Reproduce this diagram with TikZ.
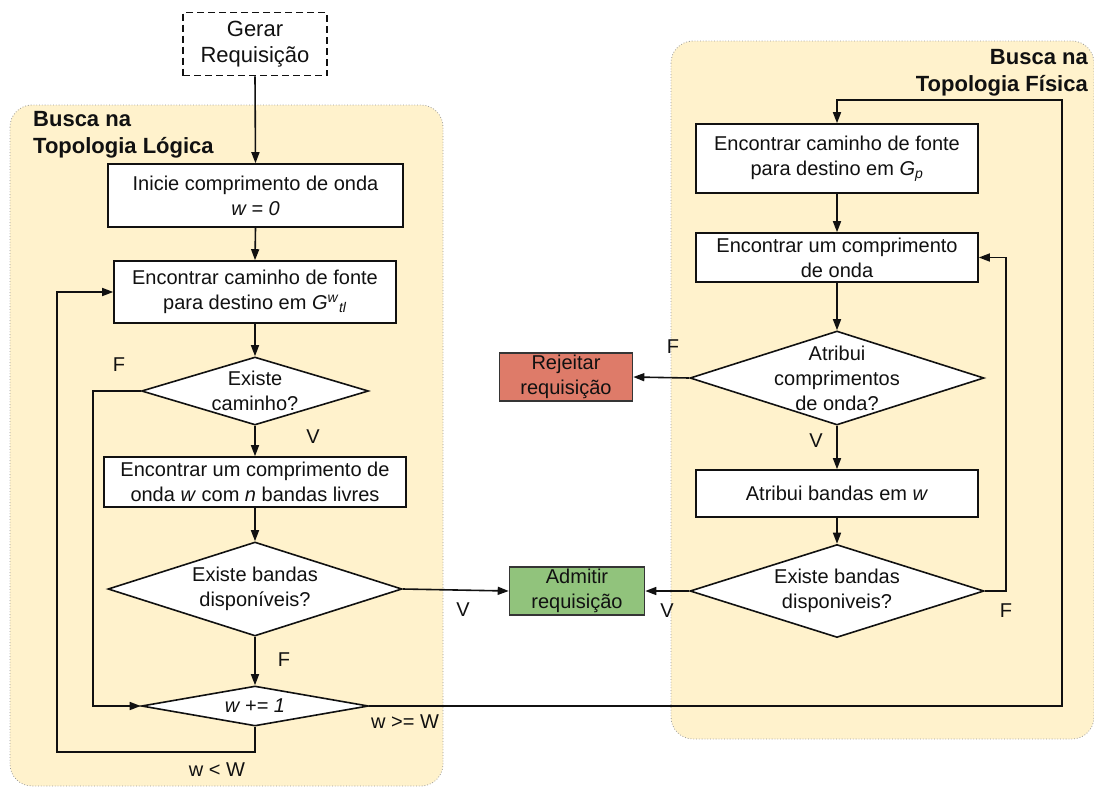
\documentclass[tikz,border=0pt]{standalone}
\usepackage{fontspec}
\setmainfont{Liberation Sans}
\usetikzlibrary{shapes.geometric,arrows.meta}
\definecolor{panelfill}{HTML}{FFF2CC}
\definecolor{panelline}{HTML}{9A9A9A}
\definecolor{rejfill}{HTML}{DE7B69}
\definecolor{admfill}{HTML}{91C37C}
\definecolor{ink}{HTML}{111111}
\begin{document}
\begin{tikzpicture}[x=1pt,y=-1pt,
  every node/.style={font=\fontsize{20}{25}\selectfont, text=ink},
  panel/.style={fill=panelfill, draw=panelline, dotted, line width=0.8pt, rounded corners=22pt},
  procbox/.style={draw=ink, fill=white, line width=1.6pt, rectangle, inner sep=0pt, align=center},
  decbox/.style={draw=ink, fill=white, line width=1.6pt, diamond, inner sep=0pt},
  dectext/.style={align=center, inner sep=0pt},
  lbl/.style={inner sep=0pt},
  ttl/.style={font=\fontsize{22}{27}\selectfont\bfseries, inner sep=0pt},
  arr/.style={draw=ink, line width=1.6pt, -{Triangle[length=11pt,width=8pt]}},
  ln/.style={draw=ink, line width=1.6pt}
]
\useasboundingbox (0,0) rectangle (1094,787);

% panels
\draw[panel] (10,105) rectangle (443,786);
\draw[panel] (671,41) rectangle (1094,739);
\node[ttl, anchor=north west, align=left] (tl) at (33,111) {Busca na\\Topologia Lógica};
\node[ttl, anchor=north east, align=right] (tr) at (1088,49) {Busca na\\Topologia Física};

% left column
\node[procbox, dashed, dash pattern=on 7pt off 4pt, minimum width=144pt, minimum height=63pt, font=\fontsize{22}{26}\selectfont] (gen) at (255,44) {Gerar\\Requisição};
\node[procbox, minimum width=295pt, minimum height=63pt] (bI) at (255.5,195.5) {Inicie comprimento de onda\\\textit{w = 0}};
\node[procbox, minimum width=282pt, minimum height=62pt] (bE) at (255,292) {Encontrar caminho de fonte\\para destino em \textit{G}\textsuperscript{\textit{w}}\textsubscript{\textit{tl}}};
\node[decbox, minimum width=227pt, minimum height=68pt] (d1) at (255,391) {};
\node[dectext] (d1t) at (d1) {Existe\\caminho?};
\node[procbox, minimum width=302pt, minimum height=50pt] (b3) at (255,482) {Encontrar um comprimento de\\onda \textit{w} com \textit{n} bandas livres};
\node[decbox, minimum width=294pt, minimum height=94pt] (d2) at (255,589) {};
\node[dectext] (d2t) at (d2) {Existe bandas\\disponíveis?};
\node[decbox, minimum width=227pt, minimum height=40pt] (d3) at (255,706) {};
\node[dectext] (d3t) at (d3) {\textit{w += 1}};

% middle
\node[procbox, draw=ink!85, fill=rejfill, minimum width=133pt, minimum height=48pt] (rej) at (566,377) {Rejeitar\\requisição};
\node[procbox, draw=ink!85, fill=admfill, minimum width=135pt, minimum height=48pt] (adm) at (577,591) {Admitir\\requisição};

% right column
\node[procbox, minimum width=282pt, minimum height=69pt] (bA) at (837,158.5) {Encontrar caminho de fonte\\para destino em \textit{G}\textsubscript{\textit{p}}};
\node[procbox, minimum width=282pt, minimum height=49pt] (bB) at (837,257.5) {Encontrar um comprimento\\de onda};
\node[decbox, minimum width=294pt, minimum height=94pt] (r1) at (837,378) {};
\node[dectext] (r1t) at (r1) {Atribui\\comprimentos\\de onda?};
\node[procbox, minimum width=282pt, minimum height=47pt] (bC) at (837,493.5) {Atribui bandas em \textit{w}};
\node[decbox, minimum width=294pt, minimum height=93pt] (r2) at (837,591) {};
\node[dectext] (r2t) at (r2) {Existe bandas\\disponiveis?};

% coordinates for routed connectors
\coordinate (cLoop) at (57,752);
\coordinate (cF) at (93,706);
\coordinate (cTop) at (1062,100);
\coordinate (cRF) at (1006,257.5);

% connectors
\draw[arr] (gen.south) -- (bI.north);
\draw[arr] (bI.south) -- (bE.north);
\draw[arr] (bE.south) -- (d1.north);
\draw[arr] (d1.south) -- (b3.north);
\draw[arr] (b3.south) -- (d2.north);
\draw[arr] (d2.south) -- (d3.north);
\draw[arr] (d1.west) -| (cF) -- (d3.west);
\draw[arr] (d3.south) |- (cLoop) |- (bE.west);
\draw[arr] (d2.east) -- (adm.west);
\draw[arr] (d3.east) -| (cTop) -| (bA.north);
\draw[arr] (bA.south) -- (bB.north);
\draw[arr] (bB.south) -- (r1.north);
\draw[arr] (r1.south) -- (bC.north);
\draw[arr] (bC.south) -- (r2.north);
\draw[arr] (r1.west) -- (rej.east);
\draw[arr] (r2.west) -- (adm.east);
\draw[arr] (r2.east) -| (cRF) -- (bB.east);

% labels
\node[lbl] (lF1) at (119,365) {F};
\node[lbl] (lV1) at (313,437) {V};
\node[lbl] (lF2) at (284,660) {F};
\node[lbl] (lGe) at (405,722) {w >= W};
\node[lbl] (lLt) at (217,770) {w < W};
\node[lbl] (lV2) at (463,610) {V};
\node[lbl] (lF3) at (673,347) {F};
\node[lbl] (lV3) at (816,441) {V};
\node[lbl] (lV4) at (667,611) {V};
\node[lbl] (lF4) at (1006,611) {F};
\end{tikzpicture}
\end{document}
